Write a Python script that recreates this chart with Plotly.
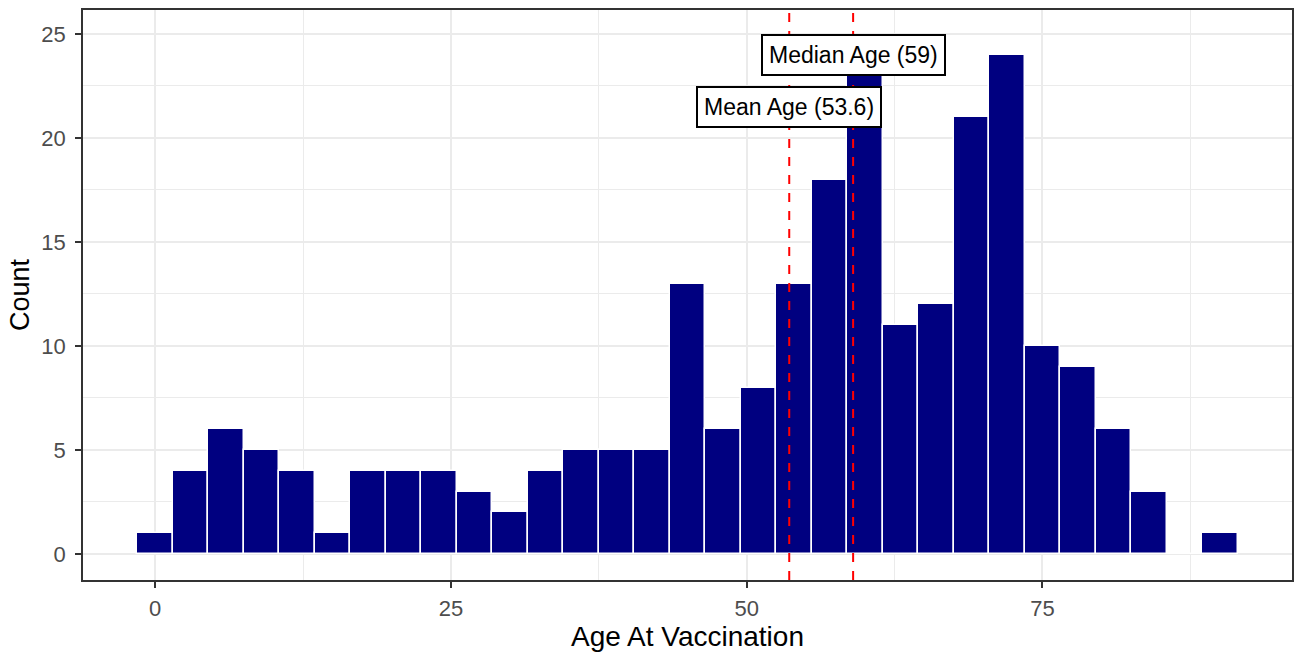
import plotly.graph_objects as go

# Data (bin width 3, centred on multiples of 3)
bin_centers = [0, 3, 6, 9, 12, 15, 18, 21, 24, 27, 30, 33, 36, 39, 42, 45,
               48, 51, 54, 57, 60, 63, 66, 69, 72, 75, 78, 81, 84, 87, 90]
counts = [1, 4, 6, 5, 4, 1, 4, 4, 4, 3, 2, 4, 5, 5, 5, 13,
          6, 8, 13, 18, 23, 11, 12, 21, 24, 10, 9, 6, 3, 0, 1]
bin_width = 3

mean_age = 53.6
median_age = 59
mean_label = "Mean Age (53.6)"
median_label = "Median Age (59)"
mean_label_y = 21.5
median_label_y = 24.0

x_ticks = [0, 25, 50, 75]
y_ticks = [0, 5, 10, 15, 20, 25]

FONT = "Liberation Sans, Arial, sans-serif"

fig = go.Figure()
fig.add_trace(go.Bar(
    x=bin_centers, y=counts, width=bin_width,
    marker=dict(color="#000080", line=dict(color="white", width=1.5)),
    hoverinfo="x+y", showlegend=False,
))

for v in (mean_age, median_age):
    fig.add_shape(type="line", xref="x", yref="paper", x0=v, x1=v, y0=0, y1=1,
                  line=dict(color="#ff0000", width=2, dash="dash"), layer="above")

for txt, xv, yv in ((median_label, median_age, median_label_y),
                    (mean_label, mean_age, mean_label_y)):
    fig.add_annotation(x=xv, y=yv, xref="x", yref="y", text=txt, showarrow=False,
                       font=dict(family=FONT, size=23, color="black"),
                       bgcolor="white", bordercolor="black", borderwidth=2,
                       borderpad=6, xanchor="center", yanchor="middle")

axis_common = dict(
    showline=True, linecolor="#333333", linewidth=1.5, mirror=True,
    ticks="outside", ticklen=6, tickcolor="#333333", tickwidth=1.5,
    showgrid=True, gridcolor="#ebebeb", gridwidth=1.5, zeroline=False,
    tickfont=dict(family=FONT, size=22, color="#4d4d4d"),
    automargin=False,
)

fig.update_xaxes(
    **axis_common, range=[-6.1, 96.1], tickvals=x_ticks,
    minor=dict(tickmode="linear", tick0=12.5, dtick=25, showgrid=True,
               gridcolor="#ebebeb", gridwidth=1, ticks=""),
    ticklabelstandoff=2,
    title=dict(text="Age At Vaccination", font=dict(family=FONT, size=28, color="black"),
               standoff=2),
)
fig.update_yaxes(
    **axis_common, range=[-1.25, 26.15], tickvals=y_ticks,
    minor=dict(tickmode="linear", tick0=2.5, dtick=5, showgrid=True,
               gridcolor="#ebebeb", gridwidth=1, ticks=""),
    ticklabelstandoff=5,
    title=dict(text="Count", font=dict(family=FONT, size=27, color="black"),
               standoff=4),
)

fig.update_layout(
    width=1294, height=654,
    margin=dict(l=83, r=2, t=10, b=74),
    plot_bgcolor="white", paper_bgcolor="white",
    bargap=0,
    font=dict(family=FONT),
)

fig.write_html(
    "out.html",
    config={"displayModeBar": False},
    post_script="document.body.style.margin='0';document.body.style.overflow='hidden';",
)
